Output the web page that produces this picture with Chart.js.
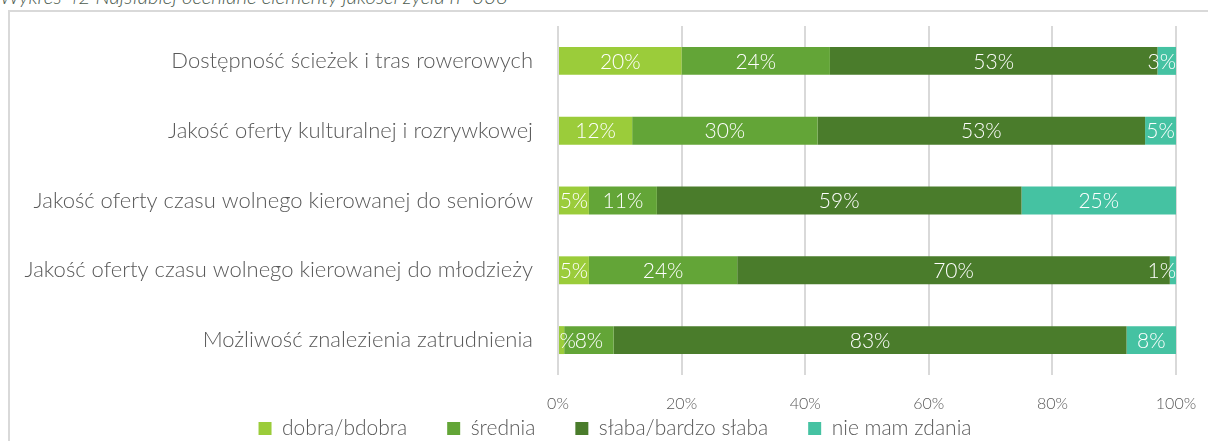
<!DOCTYPE html>
<html>
<head>
<meta charset="utf-8">
<script src="https://cdn.jsdelivr.net/npm/chart.js@4.4.1/dist/chart.umd.min.js"></script>
<style>
  html, body { margin: 0; padding: 0; background: #fff; overflow: hidden; }
  #wrap { position: relative; width: 1208px; height: 441px; }
  #frame {
    position: absolute; left: 8px; top: 10px; width: 1300px; height: 500px;
    border: 2px solid #d9d9d9; box-sizing: border-box;
  }
  #caption {
    position: absolute; left: 0; top: -16px; white-space: nowrap;
    font: italic 300 20.5px "Lato", sans-serif; color: #4d5c50;
  }
  #myChart { position: absolute; left: 0; top: 0; }
</style>
</head>
<body>
<div id="wrap">
  <div id="frame"></div>
  <div id="caption">Wykres 42 Najsłabiej oceniane elementy jakości życia n=338</div>
  <canvas id="myChart" width="1208" height="441"></canvas>
</div>
<script>
var categories = [
  "Dostępność ścieżek i tras rowerowych",
  "Jakość oferty kulturalnej i rozrywkowej",
  "Jakość oferty czasu wolnego kierowanej do seniorów",
  "Jakość oferty czasu wolnego kierowanej do młodzieży",
  "Możliwość znalezienia zatrudnienia"
];
var seriesNames = ["dobra/bdobra", "średnia", "słaba/bardzo słaba", "nie mam zdania"];
var dobra = [20, 12, 5, 5, 1];
var srednia = [24, 30, 11, 24, 8];
var slaba = [53, 53, 59, 70, 83];
var nieMam = [3, 5, 25, 1, 8];
var colors = ["#9bcc3a", "#63a537", "#4a7c2b", "#45c2a2"];

var FONT = "Lato";
var values = [dobra, srednia, slaba, nieMam];

// white percentage labels centred in each segment; kept inside the right edge, clipped on the left
var barLabels = {
  id: "barLabels",
  afterDatasetsDraw: function (chart) {
    var ctx = chart.ctx;
    var area = chart.chartArea;
    ctx.save();
    ctx.beginPath();
    ctx.rect(area.left, area.top, area.right - area.left, area.bottom - area.top);
    ctx.clip();
    ctx.fillStyle = "#ffffff";
    ctx.font = "300 21px " + FONT;
    ctx.textAlign = "center";
    ctx.textBaseline = "middle";
    chart.data.datasets.forEach(function (ds, i) {
      chart.getDatasetMeta(i).data.forEach(function (bar, j) {
        var txt = ds.data[j] + "%";
        var w = ctx.measureText(txt).width;
        var cx = (bar.x + bar.base) / 2;
        if (cx + w / 2 > area.right) cx = area.right - w / 2;
        ctx.fillText(txt, cx, bar.y + 1);
      });
    });
    ctx.restore();
  }
};

// move the legend row a bit right and up, under the plot
var legendShift = {
  id: "legendShift",
  afterLayout: function (chart) {
    var lg = chart.legend;
    lg.left += 27;
    lg.right += 27;
    lg.top -= 37;
    lg.bottom -= 37;
  }
};

var ctx = document.getElementById("myChart").getContext("2d");
var chart = new Chart(ctx, {
  type: "bar",
  data: {
    labels: categories,
    datasets: values.map(function (v, i) {
      return {
        label: seriesNames[i],
        data: v,
        backgroundColor: colors[i],
        borderWidth: 0,
        barPercentage: 0.4,
        categoryPercentage: 1.0
      };
    })
  },
  options: {
    indexAxis: "y",
    responsive: false,
    animation: false,
    layout: { padding: { top: 26, right: 32, left: 0, bottom: -45 } },
    scales: {
      x: {
        stacked: true,
        min: 0,
        max: 100,
        border: { display: false },
        grid: { color: "#d9d9d9", lineWidth: 2, drawTicks: false },
        ticks: {
          stepSize: 20,
          padding: 19,
          color: "#595959",
          font: { family: FONT, size: 16, weight: 300 },
          callback: function (v) { return v + "%"; }
        },
        afterFit: function (scale) {
          scale.height = 40;
          scale.paddingLeft = 0;
          scale.paddingRight = 0;
        }
      },
      y: {
        stacked: true,
        border: { display: false },
        grid: { display: false },
        ticks: {
          padding: 17,
          color: "#595959",
          font: { family: FONT, size: 22, weight: 300 }
        },
        afterFit: function (scale) {
          scale.width = 558;
          scale.paddingTop = 0;
          scale.paddingBottom = 0;
        }
      }
    },
    plugins: {
      tooltip: { enabled: false },
      legend: {
        position: "bottom",
        labels: {
          boxWidth: 13,
          boxHeight: 13,
          padding: 40,
          color: "#595959",
          font: { family: FONT, size: 21, weight: 300 }
        }
      }
    }
  },
  plugins: [barLabels, legendShift]
});
</script>
</body>
</html>
